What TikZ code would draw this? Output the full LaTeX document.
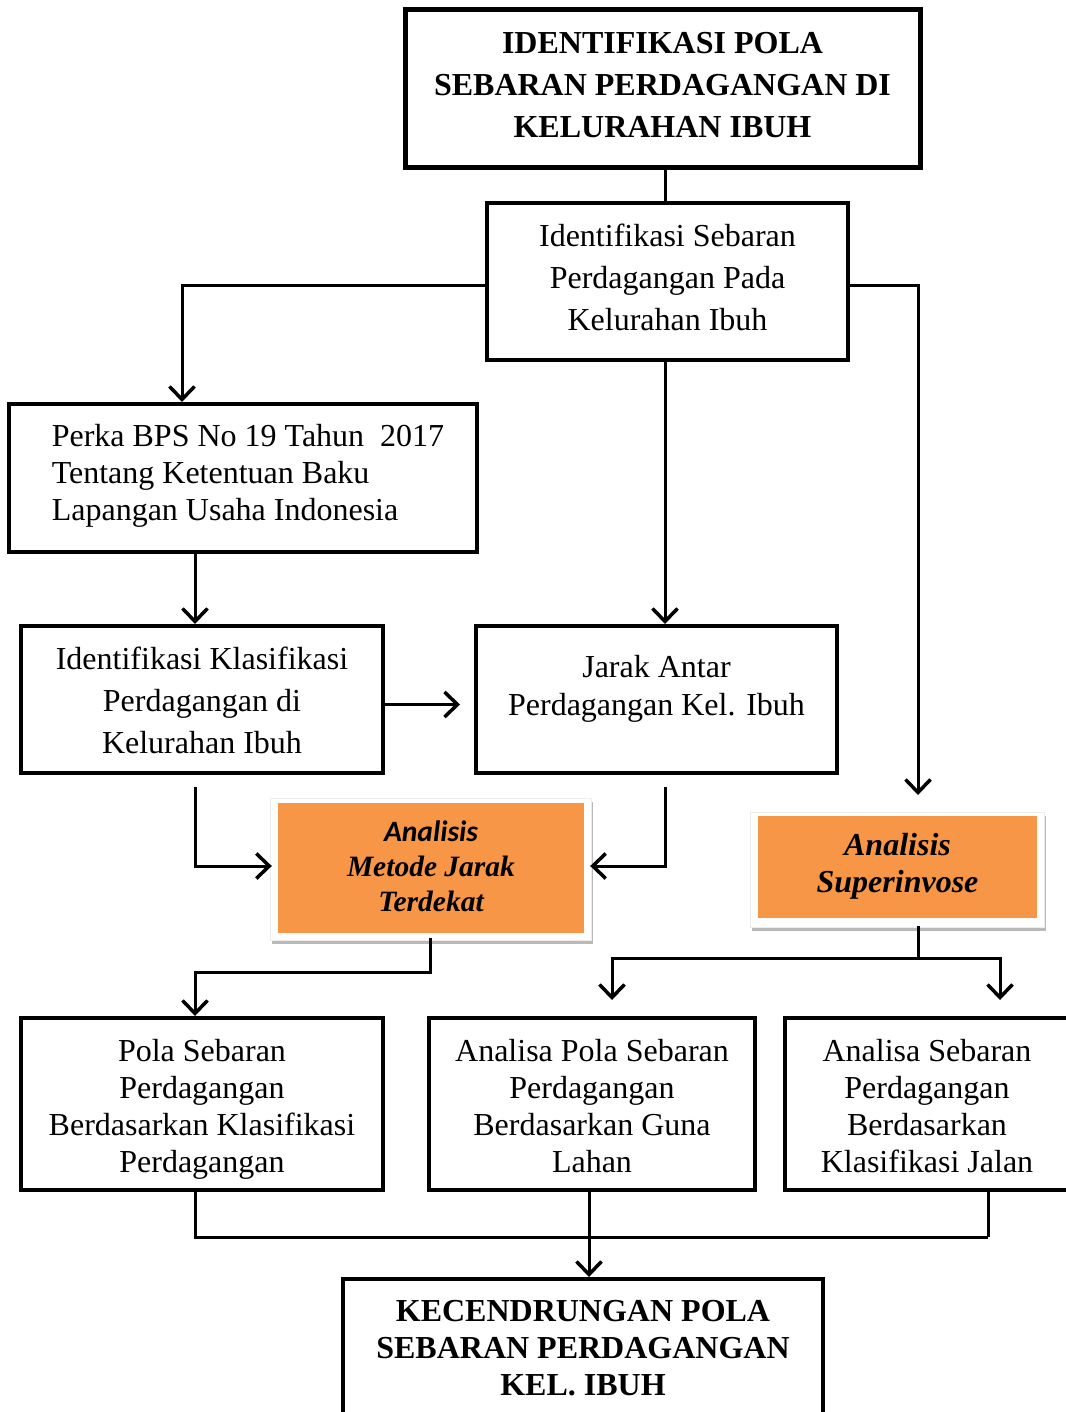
\documentclass[tikz,border=0pt]{standalone}
\usepackage{fontspec}
\setmainfont{Liberation Serif}
\newfontfamily\calib{Carlito}
\usetikzlibrary{arrows.meta,calc}
\definecolor{orng}{HTML}{F79646}
\tikzset{
  box/.style={draw=black, line width=4pt, rectangle, inner sep=0pt},
  txt/.style={align=center, inner sep=0pt, font=\fontsize{32}{42}\selectfont},
  txtb/.style={align=center, inner sep=0pt, font=\bfseries\fontsize{32}{42}\selectfont},
  arr/.style={line width=3pt, -{Straight Barb[length=13pt,width=25pt,line width=3.5pt]}},
  ln/.style={line width=3pt},
  obox/.style={fill=orng, rectangle, inner sep=0pt}
}
\begin{document}
\begin{tikzpicture}[x=1pt,y=-1pt]
\useasboundingbox (0,0) rectangle (1065,1412);
% boxes
\node[box, line width=5pt, minimum width=515pt, minimum height=158pt] (title) at (662.5,89) {};
\node[txtb] (titlet) at (662.5,85) {IDENTIFIKASI POLA\\SEBARAN PERDAGANGAN DI\\KELURAHAN IBUH};
\node[box, minimum width=361pt, minimum height=157pt] (seb) at (667.5,281.5) {};
\node[txt] (sebt) at (667.5,277.5) {Identifikasi Sebaran\\Perdagangan Pada\\Kelurahan Ibuh};
\node[box, minimum width=468pt, minimum height=148pt] (perka) at (243,478) {};
\node[txt, align=left, font=\fontsize{32}{37}\selectfont] (perkat) at (248,476) {Perka BPS No 19 Tahun\ \ 2017\\Tentang Ketentuan Baku\\Lapangan Usaha Indonesia};
\node[box, minimum width=362pt, minimum height=147pt] (klas) at (202,699.5) {};
\node[txt] (klast) at (202,700) {Identifikasi Klasifikasi\\Perdagangan di\\Kelurahan Ibuh};
\node[box, minimum width=361pt, minimum height=147pt] (jarak) at (656.5,699.5) {};
\node[txt, font=\fontsize{32}{38}\selectfont] (jarakt) at (656.5,689) {Jarak Antar\\Perdagangan Kel. Ibuh};
\node[box, minimum width=362pt, minimum height=172pt] (pola) at (202,1104) {};
\node[txt, font=\fontsize{32}{37}\selectfont] (polat) at (202,1109) {Pola Sebaran\\Perdagangan\\Berdasarkan Klasifikasi\\Perdagangan};
\node[box, minimum width=326pt, minimum height=172pt] (guna) at (592,1104) {};
\node[txt, font=\fontsize{32}{37}\selectfont] (gunat) at (592,1106) {Analisa Pola Sebaran\\Perdagangan\\Berdasarkan Guna\\Lahan};
\node[box, minimum width=290pt, minimum height=172pt] (jalan) at (930,1104) {};
\node[txt, font=\fontsize{32}{37}\selectfont] (jalant) at (927,1106) {Analisa Sebaran\\Perdagangan\\Berdasarkan\\Klasifikasi Jalan};
\node[box, minimum width=480pt, minimum height=138pt] (bot) at (583,1348) {};
\node[txtb, font=\bfseries\fontsize{32}{37}\selectfont] (bott) at (583,1348) {KECENDRUNGAN POLA\\SEBARAN PERDAGANGAN\\KEL. IBUH};
% orange boxes with white frame and shadow
\fill[gray!55] (272,802) rectangle (593,944);
\filldraw[fill=white, draw=gray!15, line width=0.8pt] (270,798) rectangle (591,940);
\node[obox, minimum width=306pt, minimum height=130pt] (anA) at (431,868) {};
\node[inner sep=0pt, align=center, font=\bfseries\itshape\fontsize{29.5}{35}\selectfont] (anAt) at (431,866) {{\calib\fontsize{29.5}{35}\selectfont Analisis}\\Metode Jarak\\Terdekat};
\fill[gray!55] (752,816) rectangle (1046,931);
\filldraw[fill=white, draw=gray!15, line width=0.8pt] (750,812) rectangle (1044,927);
\node[obox, minimum width=279pt, minimum height=102pt] (supA) at (897.5,867) {};
\node[inner sep=0pt, align=center, font=\bfseries\itshape\fontsize{32}{37}\selectfont] (supAt) at (897.5,866.5) {Analisis\\Superinvose};
% coordinates
\coordinate (supin) at (918,795);
\coordinate (sj) at (918,958);
\coordinate (gl) at (612,1000);
\coordinate (jl) at (1000,1000);
\coordinate (jn) at (988,1237);
% connectors
\draw[ln] (seb.north -| 665,0) -- (title.south -| 665,0);
\draw[arr] ([yshift=-4.5pt]seb.west) -| ([xshift=-61pt]perka.north);
\draw[arr] ([yshift=-4.5pt]seb.east) -| (supin);
\draw[arr] (seb.south -| 665,0) -- (jarak.north -| 665,0);
\draw[arr] ([xshift=-48pt]perka.south) -- ([xshift=-7pt]klas.north);
\draw[arr] ([yshift=-5pt]klas.east) -- ([xshift=-14pt,yshift=-5pt]jarak.west);
\draw[arr] ([xshift=-7pt,yshift=-12pt]klas.south) |- ([xshift=-6pt,yshift=2pt]anA.west);
\draw[arr] ([xshift=8.5pt,yshift=-12pt]jarak.south) |- ([xshift=6pt,yshift=2pt]anA.east);
\draw[arr] ([xshift=-1pt,yshift=-5pt]anA.south) -- ++(0,34) -| ([xshift=-7pt]pola.north);
\draw[ln] ([xshift=20.5pt,yshift=-8pt]supA.south) -- (sj);
\draw[arr] (sj) -| (gl);
\draw[arr] (sj) -| (jl);
\draw[ln] ([xshift=-7pt]pola.south) |- (jn);
\draw[ln] ([xshift=58pt]jalan.south) -- (jn);
\draw[arr] ([xshift=-3pt]guna.south) -- ([xshift=6pt]bot.north);
\end{tikzpicture}
\end{document}
